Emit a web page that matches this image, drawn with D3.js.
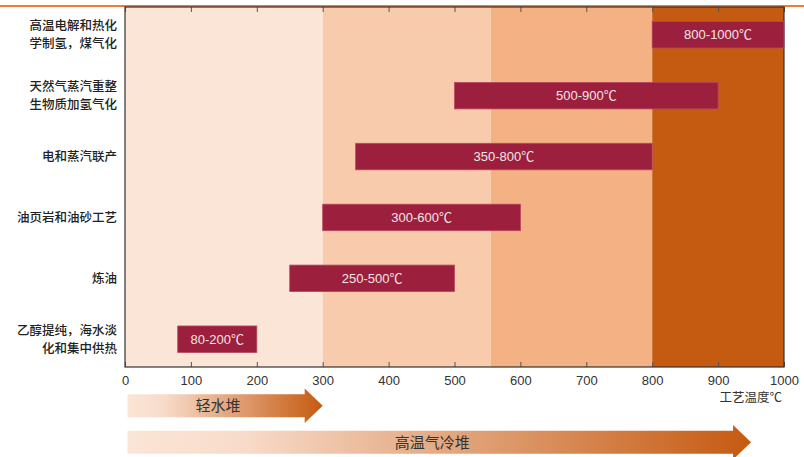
<!DOCTYPE html>
<html>
<head>
<meta charset="utf-8">
<script src="https://cdn.jsdelivr.net/npm/d3@7"></script>
<style>
  html, body { margin: 0; padding: 0; background: #ffffff; }
  svg { display: block; }
</style>
</head>
<body>
<svg id="chart" width="804" height="457"></svg>
<script>
// Process categories, top to bottom
const processes = [
  ["高温电解和热化", "学制氢，煤气化"],
  ["天然气蒸汽重整", "生物质加氢气化"],
  ["电和蒸汽联产"],
  ["油页岩和油砂工艺"],
  ["炼油"],
  ["乙醇提纯，海水淡", "化和集中供热"]
];
// Temperature range of each process (°C)
const tempLow  = [800, 500, 350, 300, 250, 80];
const tempHigh = [1000, 900, 800, 600, 500, 200];

// Background temperature zones (°C)
const zoneStart = [0, 300, 555, 800];
const zoneEnd   = [300, 555, 800, 1000];
const zoneColor = ["#fbe5d6", "#f8cbad", "#f4b183", "#c55a11"];

// Axis ticks
const tickValues = [0, 100, 200, 300, 400, 500, 600, 700, 800, 900, 1000];
const axisTitle = "工艺温度℃";

// Reactor types and the temperature they reach (°C)
const reactors   = ["轻水堆", "高温气冷堆"];
const reactorMin = [0, 0];
const reactorMax = [300, 950];

const svg = d3.select("#chart");
const W = 804, H = 457;
const margin = { top: 7, left: 125, right: 20 };
const iw = 659, ih = 360;

// thin orange rule across the top
svg.append("line")
  .attr("x1", 0).attr("x2", W).attr("y1", 6).attr("y2", 6)
  .attr("stroke", "#ed7d31").attr("stroke-width", 2);

const g = svg.append("g").attr("transform", `translate(${margin.left},${margin.top})`);

const x = d3.scaleLinear().domain([0, 1000]).range([0, iw]);
const y = d3.scalePoint().domain(d3.range(processes.length)).range([0, ih]).padding(0.456);
const barH = y.step() * 0.435;

// zones
g.selectAll("rect.zone")
  .data(zoneStart.map((s, i) => ({ s, e: zoneEnd[i], c: zoneColor[i] })))
  .join("rect")
  .attr("class", "zone")
  .attr("x", d => x(d.s))
  .attr("width", d => x(d.e) - x(d.s))
  .attr("y", 0).attr("height", ih)
  .attr("fill", d => d.c);

// axes with inward ticks, top and bottom
const axB = g.append("g").attr("transform", `translate(0,${ih})`)
  .call(d3.axisBottom(x).tickValues(tickValues).tickFormat(d3.format("d"))
    .tickSizeInner(-5).tickSizeOuter(0).tickPadding(8.5));
axB.select(".domain").remove();
axB.selectAll(".tick line").attr("stroke", "#555");
axB.selectAll(".tick text")
  .attr("font-family", "'Liberation Sans', Arial, sans-serif")
  .attr("font-size", 13).attr("fill", "#333");

const axT = g.append("g")
  .call(d3.axisTop(x).tickValues(tickValues).tickFormat("")
    .tickSizeInner(-5).tickSizeOuter(0));
axT.select(".domain").remove();
axT.selectAll(".tick line").attr("stroke", "#555");

// frame
g.append("rect")
  .attr("x", 0).attr("y", 0).attr("width", iw).attr("height", ih)
  .attr("fill", "none").attr("stroke", "#333").attr("stroke-width", 1.2);

// range bars
const rows = processes.map((p, i) => ({ i, lo: tempLow[i], hi: tempHigh[i] }));
g.selectAll("rect.bar")
  .data(rows)
  .join("rect")
  .attr("class", "bar")
  .attr("x", d => x(d.lo))
  .attr("width", d => x(d.hi) - x(d.lo))
  .attr("y", d => y(d.i) - barH / 2)
  .attr("height", barH)
  .attr("fill", "#9c1f3d")
  .attr("stroke", "#b8475f").attr("stroke-width", 0.8);

g.selectAll("text.barlabel")
  .data(rows)
  .join("text")
  .attr("class", "barlabel")
  .attr("x", d => (x(d.lo) + x(d.hi)) / 2)
  .attr("y", d => y(d.i))
  .attr("dy", "0.36em")
  .attr("text-anchor", "middle")
  .attr("font-family", "'Liberation Sans', 'Noto Sans CJK SC', sans-serif")
  .attr("font-size", 13)
  .attr("fill", "#f3e6e9")
  .text(d => `${d.lo}-${d.hi}℃`);

// category labels, one text element per line
const lineH = 18.2;
processes.forEach((lines, i) => {
  lines.forEach((s, k) => {
    g.append("text")
      .attr("class", "cat")
      .attr("x", -8)
      .attr("y", y(i) + (k - (lines.length - 1) / 2) * lineH)
      .attr("dy", "0.36em")
      .attr("text-anchor", "end")
      .attr("font-family", "'Noto Sans CJK SC', sans-serif")
      .attr("font-size", 12.5)
      .attr("font-weight", 500)
      .attr("fill", "#222")
      .text(s);
  });
});

// axis title
g.append("text")
  .attr("x", iw - 2).attr("y", ih + 35)
  .attr("text-anchor", "end")
  .attr("font-family", "'Noto Sans CJK SC', sans-serif")
  .attr("font-size", 12.5)
  .attr("fill", "#333")
  .text(axisTitle);

// reactor arrows
const defs = svg.append("defs");
const bodyH = 23, headHalf = 17.3, headLen = 18;
const arrowY = [405.8, 442.3];
reactors.forEach((name, i) => {
  const x0 = margin.left + x(reactorMin[i]) + 2.5;
  const tip = margin.left + x(reactorMax[i]);
  const bodyEnd = tip - headLen;
  const cy = arrowY[i];
  const gid = "grad" + i;
  const grad = defs.append("linearGradient").attr("id", gid)
    .attr("gradientUnits", "userSpaceOnUse")
    .attr("x1", x0).attr("x2", tip).attr("y1", 0).attr("y2", 0);
  grad.append("stop").attr("offset", 0).attr("stop-color", "#fbe5d6");
  grad.append("stop").attr("offset", 0.18).attr("stop-color", "#f8dccb");
  grad.append("stop").attr("offset", 1).attr("stop-color", "#c55a11");

  const p = d3.path();
  p.moveTo(x0, cy - bodyH / 2);
  p.lineTo(bodyEnd, cy - bodyH / 2);
  p.lineTo(bodyEnd, cy - headHalf);
  p.lineTo(tip, cy);
  p.lineTo(bodyEnd, cy + headHalf);
  p.lineTo(bodyEnd, cy + bodyH / 2);
  p.lineTo(x0, cy + bodyH / 2);
  p.closePath();
  svg.append("path").attr("d", p.toString()).attr("fill", `url(#${gid})`);

  svg.append("text")
    .attr("x", (x0 + bodyEnd) / 2 + 2)
    .attr("y", cy)
    .attr("dy", "0.36em")
    .attr("text-anchor", "middle")
    .attr("font-family", "'Noto Sans CJK SC', sans-serif")
    .attr("font-size", 15)
    .attr("fill", "#333")
    .text(name);
});
</script>
</body>
</html>
